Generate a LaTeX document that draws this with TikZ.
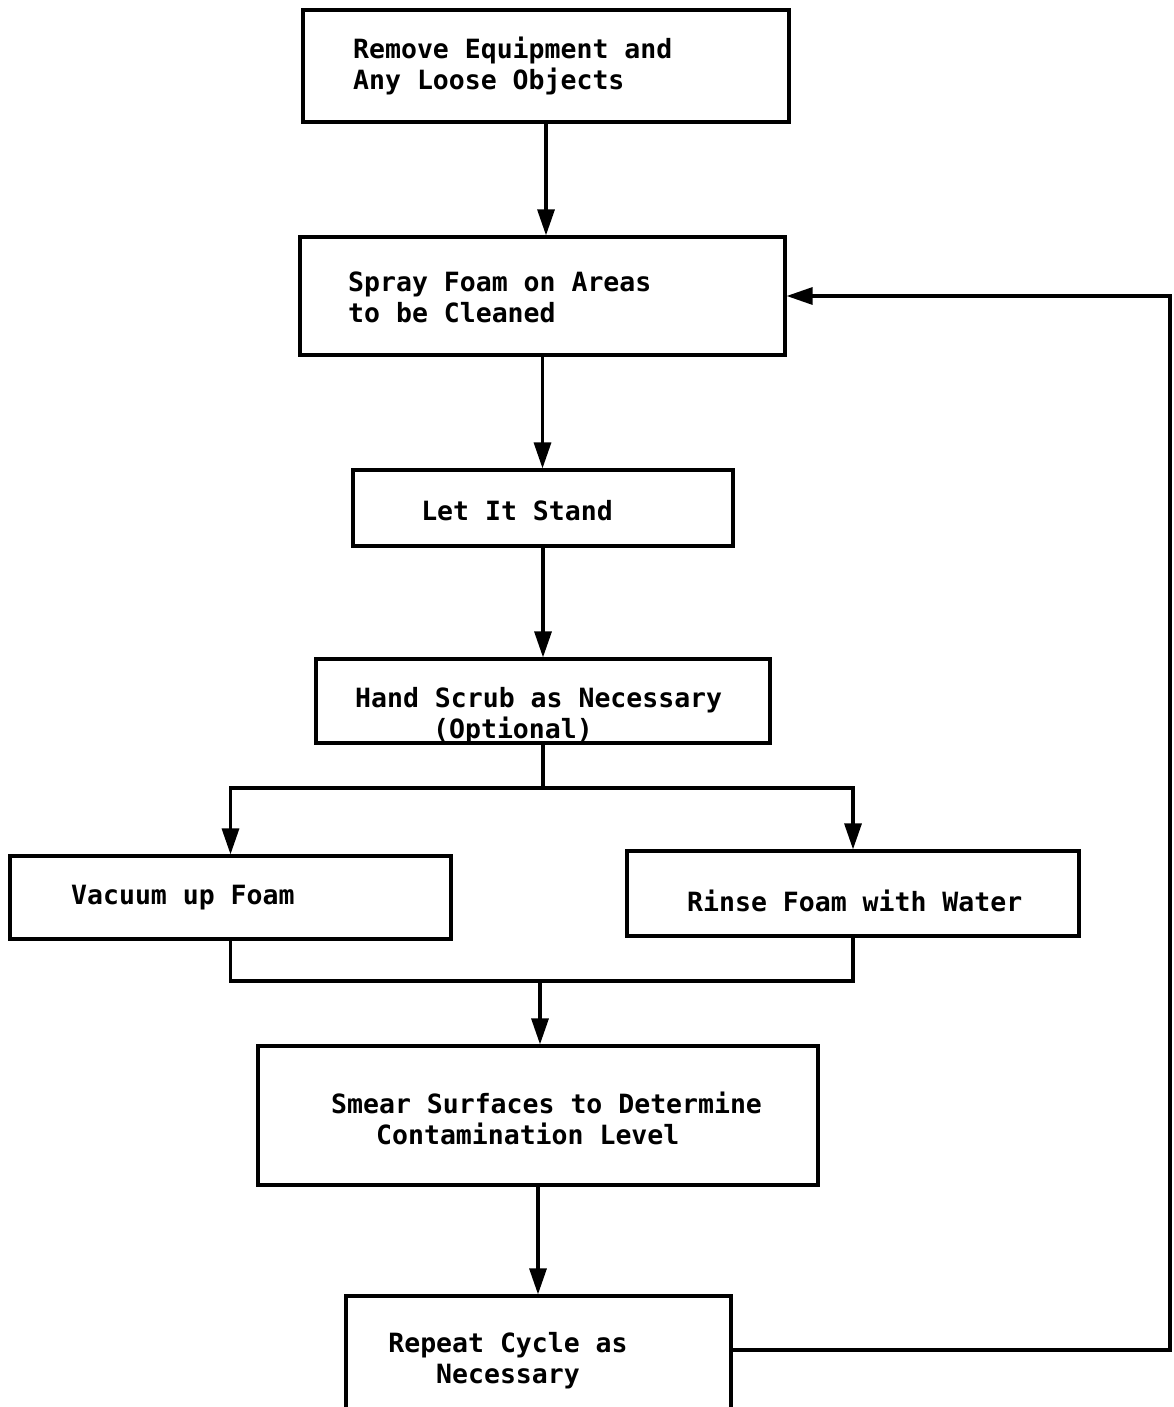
\documentclass[tikz,border=0pt]{standalone}
\usepackage{fontspec}
\setmonofont{DejaVu Sans Mono}
\usetikzlibrary{arrows.meta}
\begin{document}
\begin{tikzpicture}[x=1pt,y=-1pt,
 box/.style={draw, line width=3.2pt, rectangle, inner sep=0pt},
 txt/.style={font=\ttfamily\bfseries\fontsize{26.5}{31}\selectfont, inner sep=0pt},
 conn/.style={line width=3.2pt},
 arr/.style={conn, -{Triangle[length=26pt,width=17pt]}}]
\useasboundingbox (0,0) rectangle (1174,1407);
\clip (0,0) rectangle (1174,1407);
% boxes
\node[box, minimum width=486, minimum height=112] (remove) at (546,66) {};
\node[box, minimum width=485, minimum height=118] (spray) at (542.5,296) {};
\node[box, minimum width=380, minimum height=76] (stand) at (543,508) {};
\node[box, minimum width=454, minimum height=84] (scrub) at (543,701) {};
\node[box, minimum width=441, minimum height=83] (vacuum) at (230.5,897.5) {};
\node[box, minimum width=452, minimum height=85] (rinse) at (853,893.5) {};
\node[box, minimum width=560, minimum height=139] (smear) at (538,1115.5) {};
\node[box, minimum width=385, minimum height=120] (repeat) at (538.5,1356) {};
% texts
\node[txt, align=left, anchor=west] (tremove) at (353,66) {Remove Equipment and\\Any Loose Objects};
\node[txt, align=left, anchor=west] (tspray) at (348,297) {Spray Foam on Areas\\to be Cleaned};
\node[txt] (tstand) at (517,511) {Let It Stand};
\node[txt, align=left, anchor=west] (tscrub) at (355,716) {Hand Scrub as Necessary\\\hspace*{78pt}(Optional)};
\node[txt, anchor=west] (tvacuum) at (71,898) {Vacuum up Foam};
\node[txt, anchor=west] (trinse) at (687,901) {Rinse Foam with Water};
\node[txt, align=left, anchor=west] (tsmear) at (331,1118) {Smear Surfaces to Determine\\\hspace*{45pt}Contamination Level};
\node[txt, align=center] (trepeat) at (508,1361) {Repeat Cycle as\\Necessary};
% connectors
\draw[arr] (remove.south) -- (remove.south |- spray.north);
\draw[arr] (spray.south) -- (spray.south |- stand.north);
\draw[arr] (stand.south) -- (stand.south |- scrub.north);
\coordinate (split) at (scrub.south |- 0,788);
\draw[conn] (scrub.south) -- (split);
\draw[arr] (split) -| (vacuum.north);
\draw[arr] (split) -| (rinse.north);
\coordinate (merge) at (540,981);
\draw[conn] (vacuum.south) |- (merge);
\draw[conn] (rinse.south) |- (merge);
\draw[arr] (merge) -- (merge |- smear.north);
\draw[arr] (smear.south) -- (smear.south |- repeat.north);
\coordinate (corner) at (1170,1350);
\draw[arr] (repeat.east |- corner) -- (corner) |- (spray.east);
\end{tikzpicture}
\end{document}
